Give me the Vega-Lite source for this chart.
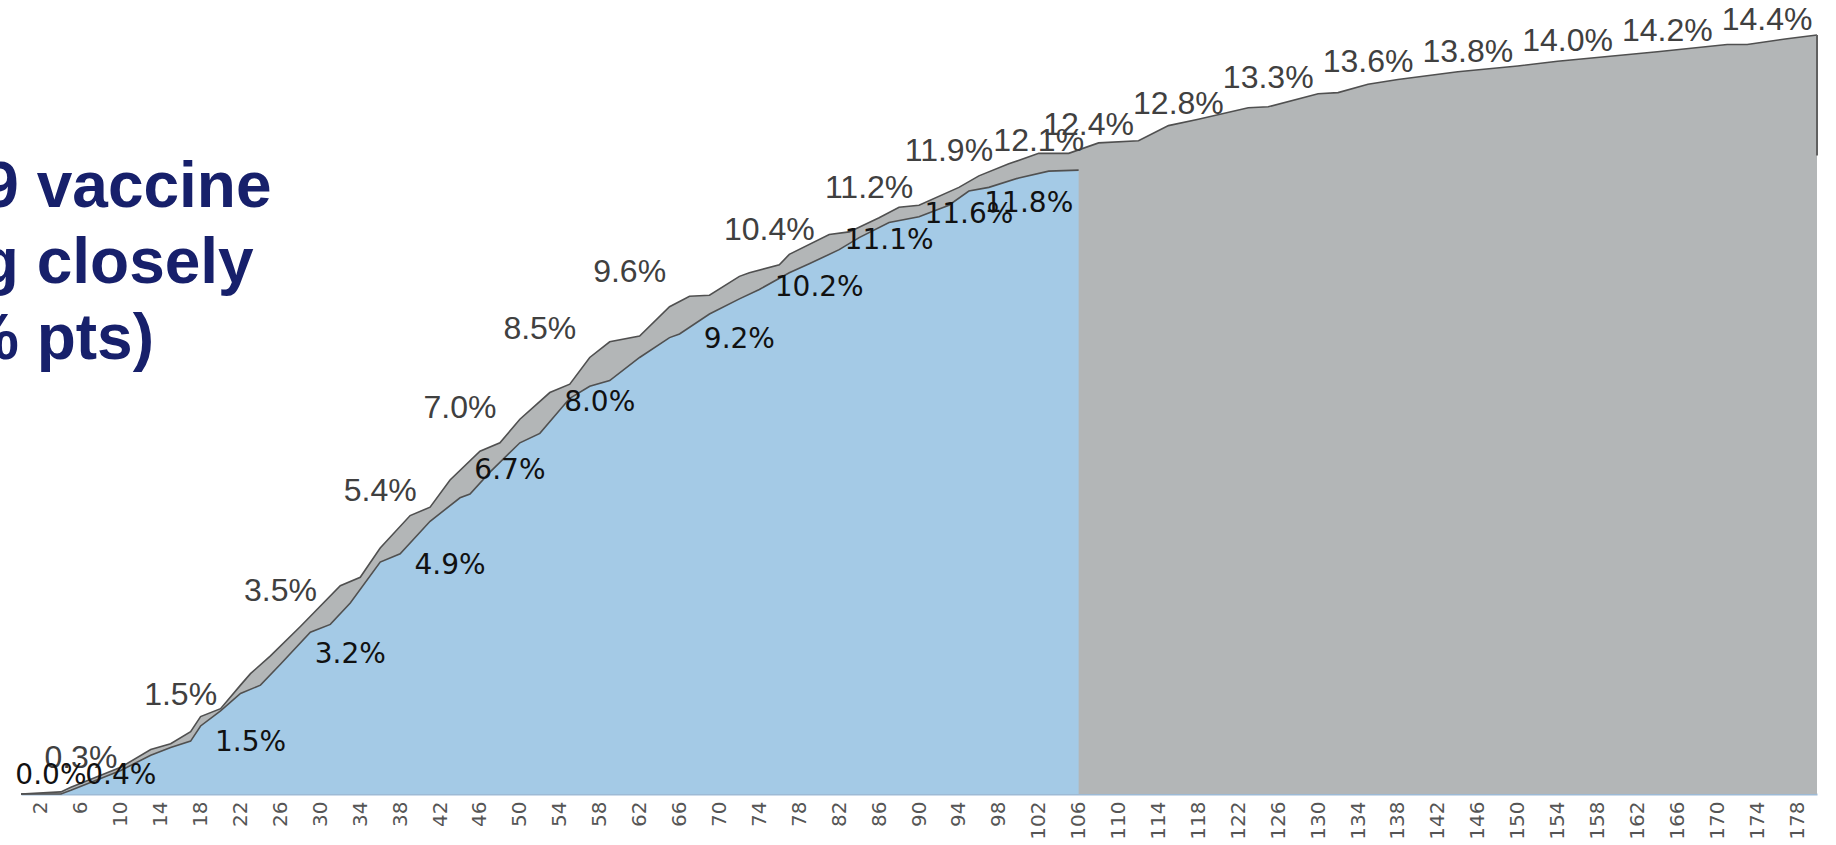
{
  "$schema": "https://vega.github.io/schema/vega-lite/v6.json",
  "width": 1796,
  "height": 794,
  "autosize": {"type": "none"},
  "padding": {"left": 21, "top": 0, "right": 19, "bottom": 51},
  "background": "white",
  "config": {"view": {"stroke": null}},
  "title": {
    "text": ["-9 vaccine", "ig closely", "% pts)"],
    "anchor": "start",
    "frame": "group",
    "orient": "top",
    "font": "Liberation Sans",
    "fontSize": 64,
    "fontWeight": "bold",
    "color": "#17206B",
    "lineHeight": 76,
    "dx": -59,
    "offset": -372
  },
  "datasets": {
    "gray": [
      {"day": 0, "value": 0}, {"day": 4, "value": 0.04}, {"day": 5, "value": 0.13}, {"day": 10, "value": 0.51},
      {"day": 13, "value": 0.85}, {"day": 15, "value": 0.96}, {"day": 17, "value": 1.19}, {"day": 18, "value": 1.48},
      {"day": 20, "value": 1.63}, {"day": 22, "value": 2.08}, {"day": 23, "value": 2.30}, {"day": 25, "value": 2.64},
      {"day": 28, "value": 3.20}, {"day": 32, "value": 3.98}, {"day": 34, "value": 4.14}, {"day": 36, "value": 4.70},
      {"day": 39, "value": 5.32}, {"day": 41, "value": 5.48}, {"day": 43, "value": 6.00}, {"day": 46, "value": 6.55},
      {"day": 48, "value": 6.71}, {"day": 50, "value": 7.16}, {"day": 53, "value": 7.67}, {"day": 55, "value": 7.83},
      {"day": 57, "value": 8.34}, {"day": 59, "value": 8.64}, {"day": 62, "value": 8.75}, {"day": 65, "value": 9.31},
      {"day": 67, "value": 9.51}, {"day": 69, "value": 9.53}, {"day": 72, "value": 9.89}, {"day": 73, "value": 9.96},
      {"day": 76, "value": 10.11}, {"day": 77, "value": 10.31}, {"day": 81, "value": 10.69}, {"day": 83, "value": 10.74},
      {"day": 86, "value": 11.01}, {"day": 88, "value": 11.21}, {"day": 90, "value": 11.25}, {"day": 94, "value": 11.59},
      {"day": 96, "value": 11.81}, {"day": 99, "value": 12.04}, {"day": 102, "value": 12.24}, {"day": 105, "value": 12.24},
      {"day": 108, "value": 12.44}, {"day": 112, "value": 12.48}, {"day": 115, "value": 12.77}, {"day": 118, "value": 12.89},
      {"day": 123, "value": 13.11}, {"day": 125, "value": 13.13}, {"day": 130, "value": 13.38}, {"day": 132, "value": 13.40},
      {"day": 135, "value": 13.56}, {"day": 138, "value": 13.65}, {"day": 144, "value": 13.80}, {"day": 150, "value": 13.91},
      {"day": 154, "value": 14.00}, {"day": 159, "value": 14.09}, {"day": 164, "value": 14.18}, {"day": 171, "value": 14.32},
      {"day": 173, "value": 14.32}, {"day": 177, "value": 14.43}, {"day": 180, "value": 14.50}
    ],
    "blue": [
      {"day": 0, "value": 0}, {"day": 4, "value": 0}, {"day": 5, "value": 0.07}, {"day": 10, "value": 0.45},
      {"day": 13, "value": 0.74}, {"day": 15, "value": 0.89}, {"day": 17, "value": 1.01}, {"day": 18, "value": 1.30},
      {"day": 20, "value": 1.59}, {"day": 22, "value": 1.92}, {"day": 24, "value": 2.08}, {"day": 26, "value": 2.48},
      {"day": 29, "value": 3.09}, {"day": 31, "value": 3.24}, {"day": 33, "value": 3.65}, {"day": 36, "value": 4.43},
      {"day": 38, "value": 4.59}, {"day": 41, "value": 5.21}, {"day": 44, "value": 5.66}, {"day": 45, "value": 5.73},
      {"day": 47, "value": 6.15}, {"day": 50, "value": 6.71}, {"day": 52, "value": 6.89}, {"day": 55, "value": 7.56},
      {"day": 57, "value": 7.79}, {"day": 59, "value": 7.90}, {"day": 62, "value": 8.34}, {"day": 65, "value": 8.72},
      {"day": 66, "value": 8.79}, {"day": 69, "value": 9.17}, {"day": 72, "value": 9.46}, {"day": 74, "value": 9.64},
      {"day": 77, "value": 9.96}, {"day": 79, "value": 10.13}, {"day": 82, "value": 10.40}, {"day": 84, "value": 10.63},
      {"day": 87, "value": 10.92}, {"day": 90, "value": 11.03}, {"day": 93, "value": 11.25}, {"day": 95, "value": 11.52},
      {"day": 97, "value": 11.59}, {"day": 100, "value": 11.77}, {"day": 103, "value": 11.90}, {"day": 106, "value": 11.92}
    ],
    "grayLabels": [
      {"day": 6, "value": 0.3, "label": "0.3%"}, {"day": 16, "value": 1.5, "label": "1.5%"},
      {"day": 26, "value": 3.5, "label": "3.5%"}, {"day": 36, "value": 5.4, "label": "5.4%"},
      {"day": 44, "value": 7.0, "label": "7.0%"}, {"day": 52, "value": 8.5, "label": "8.5%"},
      {"day": 61, "value": 9.6, "label": "9.6%"}, {"day": 75, "value": 10.4, "label": "10.4%"},
      {"day": 85, "value": 11.2, "label": "11.2%"}, {"day": 93, "value": 11.9, "label": "11.9%"},
      {"day": 102, "value": 12.1, "label": "12.1%"}, {"day": 107, "value": 12.4, "label": "12.4%"},
      {"day": 116, "value": 12.8, "label": "12.8%"}, {"day": 125, "value": 13.3, "label": "13.3%"},
      {"day": 135, "value": 13.6, "label": "13.6%"}, {"day": 145, "value": 13.8, "label": "13.8%"},
      {"day": 155, "value": 14.0, "label": "14.0%"}, {"day": 165, "value": 14.2, "label": "14.2%"},
      {"day": 175, "value": 14.4, "label": "14.4%"}
    ],
    "blueLabels": [
      {"day": 3, "value": 0.0, "label": "0.0%"}, {"day": 10, "value": 0.4, "label": "0.4%"},
      {"day": 23, "value": 1.5, "label": "1.5%"}, {"day": 33, "value": 3.2, "label": "3.2%"},
      {"day": 43, "value": 4.9, "label": "4.9%"}, {"day": 49, "value": 6.7, "label": "6.7%"},
      {"day": 58, "value": 8.0, "label": "8.0%"}, {"day": 72, "value": 9.2, "label": "9.2%"},
      {"day": 80, "value": 10.2, "label": "10.2%"}, {"day": 87, "value": 11.1, "label": "11.1%"},
      {"day": 95, "value": 11.6, "label": "11.6%"}, {"day": 101, "value": 11.8, "label": "11.8%"}
    ],
    "edge": [
      {"day": 180, "low": 12.2, "high": 14.5}
    ]
  },
  "encoding": {
    "x": {
      "field": "day",
      "type": "quantitative",
      "scale": {"domain": [0, 180], "nice": false, "zero": false},
      "axis": {
        "values": [2, 6, 10, 14, 18, 22, 26, 30, 34, 38, 42, 46, 50, 54, 58, 62, 66, 70, 74, 78, 82, 86, 90, 94, 98, 102, 106, 110, 114, 118, 122, 126, 130, 134, 138, 142, 146, 150, 154, 158, 162, 166, 170, 174, 178],
        "title": null,
        "labelAngle": 270,
        "labelFont": "DejaVu Sans",
        "labelFontSize": 20,
        "labelColor": "#555555",
        "labelPadding": 7,
        "labelOverlap": false,
        "labelFlush": false,
        "ticks": false,
        "grid": false,
        "domainColor": "#9DBAD5",
        "domainWidth": 2
      }
    }
  },
  "layer": [
    {
      "data": {"name": "gray"},
      "mark": {"type": "area", "color": "#B3B6B7"},
      "encoding": {"y": {"field": "value", "type": "quantitative", "scale": {"domain": [0, 15.17], "nice": false}, "axis": null}}
    },
    {
      "data": {"name": "gray"},
      "mark": {"type": "line", "color": "#505050", "strokeWidth": 1.6},
      "encoding": {"y": {"field": "value", "type": "quantitative", "axis": null}}
    },
    {
      "data": {"name": "edge"},
      "mark": {"type": "rule", "color": "#606060", "strokeWidth": 2},
      "encoding": {"y": {"field": "low", "type": "quantitative", "axis": null}, "y2": {"field": "high"}}
    },
    {
      "data": {"name": "blue"},
      "mark": {"type": "area", "color": "#A4CAE6", "opacity": 1},
      "encoding": {"y": {"field": "value", "type": "quantitative", "axis": null}}
    },
    {
      "data": {"name": "blue"},
      "mark": {"type": "line", "color": "#505050", "strokeWidth": 1.6},
      "encoding": {"y": {"field": "value", "type": "quantitative", "axis": null}}
    },
    {
      "data": {"name": "grayLabels"},
      "mark": {"type": "text", "font": "Liberation Sans", "fontSize": 32, "color": "#404040", "align": "center", "baseline": "middle", "dy": -20},
      "encoding": {"y": {"field": "value", "type": "quantitative", "axis": null}, "text": {"field": "label"}}
    },
    {
      "data": {"name": "blueLabels"},
      "transform": [{"filter": "datum.value >= 1"}],
      "mark": {"type": "text", "font": "DejaVu Sans", "fontSize": 28, "color": "#111111", "align": "center", "baseline": "middle", "dy": 28},
      "encoding": {"y": {"field": "value", "type": "quantitative", "axis": null}, "text": {"field": "label"}}
    },
    {
      "data": {"name": "blueLabels"},
      "transform": [{"filter": "datum.value < 1"}],
      "mark": {"type": "text", "font": "DejaVu Sans", "fontSize": 28, "color": "#111111", "align": "center", "baseline": "middle"},
      "encoding": {"y": {"datum": 0.35, "type": "quantitative", "axis": null}, "text": {"field": "label"}}
    }
  ]
}
